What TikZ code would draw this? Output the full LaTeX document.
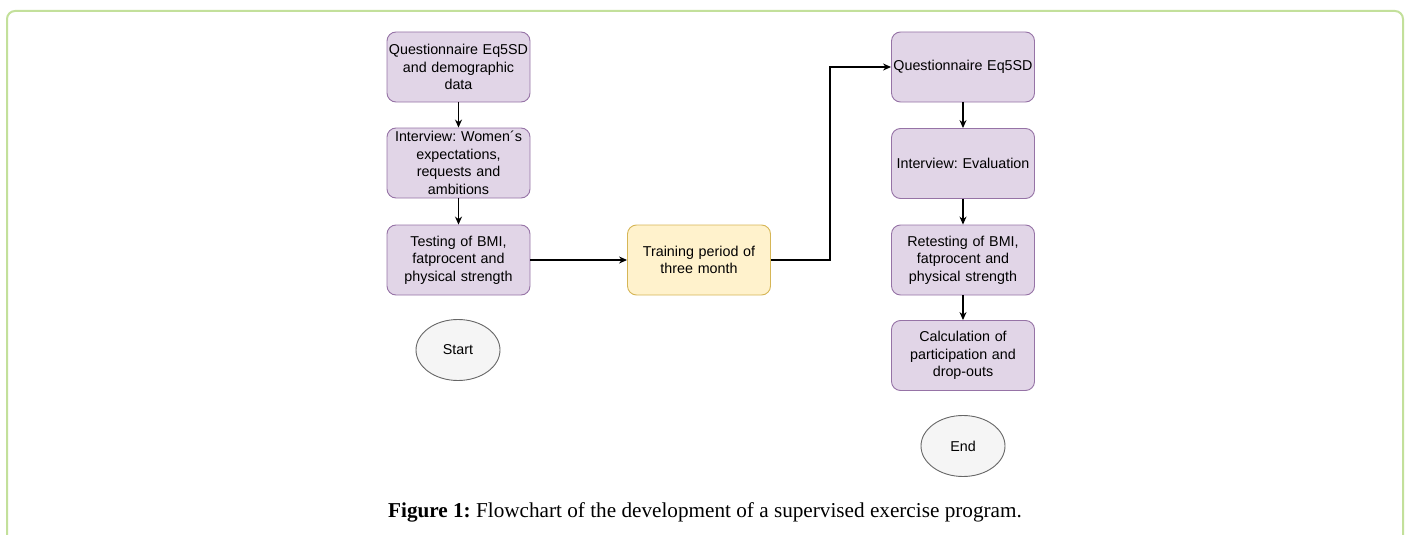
\documentclass[tikz,border=0pt]{standalone}
\usepackage{fontspec}
\setmainfont{Liberation Serif}
\newfontfamily\boxfont{Liberation Sans}
\usetikzlibrary{arrows.meta,shapes.geometric}
\definecolor{fcPurple}{HTML}{E1D5E7}
\definecolor{fcPurpleLine}{HTML}{9673A6}
\definecolor{fcYellow}{HTML}{FFF2CC}
\definecolor{fcYellowLine}{HTML}{D6B656}
\definecolor{fcGrey}{HTML}{F5F5F5}
\definecolor{fcGreyLine}{HTML}{666666}
\definecolor{fcFrame}{HTML}{C3E09B}
\frenchspacing

\tikzset{
  stepbox/.style={draw=fcPurpleLine, fill=fcPurple, rounded corners=9pt, line width=0.9pt,
    minimum width=143pt, minimum height=70pt, text width=143pt, inner xsep=0pt,
    align=center, font=\boxfont\fontsize{14.3}{17.5}\selectfont},
  trainbox/.style={stepbox, draw=fcYellowLine, fill=fcYellow},
  terminal/.style={ellipse, draw=fcGreyLine, fill=fcGrey, line width=0.9pt,
    minimum width=84pt, minimum height=61pt, inner sep=0pt,
    font=\boxfont\fontsize{14.3}{17.5}\selectfont},
  flow/.style={-{Stealth[length=8pt,width=7pt]}, line width=1.1pt, black}
}

\begin{document}
\begin{tikzpicture}[x=1pt, y=-1pt]
  \useasboundingbox (0,0) rectangle (1409,535);
  % outer frame, open at the bottom
  \draw[fcFrame, line width=2pt, rounded corners=8pt] (7,536) -- (7,11) -- (1403,11) -- (1403,536);

  % before the training period
  \node[stepbox] (quest) at (458.5,67) {Questionnaire Eq5SD\\and demographic\\data};
  \node[stepbox] (interview) at (458.5,163) {Interview: Women´s\\expectations,\\requests and\\ambitions};
  \node[stepbox] (testing) at (458.5,260) {Testing of BMI,\\fatprocent and\\physical strength};
  \node[terminal] (start) at (458,350) {Start};

  % training
  \node[trainbox] (training) at (699,260) {Training period of\\three month};

  % after the training period
  \node[stepbox] (request) at (963,67) {Questionnaire Eq5SD};
  \node[stepbox] (evaluation) at (963,163.5) {Interview: Evaluation};
  \node[stepbox] (retesting) at (963,260) {Retesting of BMI,\\fatprocent and\\physical strength};
  \node[stepbox] (calc) at (963,355.5) {Calculation of\\participation and\\drop-outs};
  \node[terminal] (end) at (963,446) {End};

  \coordinate (bend) at (830,67);

  \draw[flow] (quest) -- (interview);
  \draw[flow] (interview) -- (testing);
  \draw[flow] (testing) -- (training);
  \draw[flow] (training.east) -| (bend) -- (request.west);
  \draw[flow] (request) -- (evaluation);
  \draw[flow] (evaluation) -- (retesting);
  \draw[flow] (retesting) -- (calc);

  \node[font=\fontsize{21.2}{25}\selectfont] (caption) at (705,512)
    {\textbf{Figure 1:} Flowchart of the development of a supervised exercise program.};
\end{tikzpicture}
\end{document}
